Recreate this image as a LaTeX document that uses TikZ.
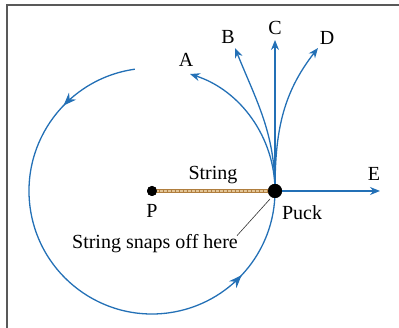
\documentclass[tikz,border=0pt]{standalone}
\usepackage{fontspec}
\setmainfont{Liberation Serif}
\usetikzlibrary{arrows.meta,decorations.markings}
\definecolor{pathblue}{RGB}{35,112,182}
\definecolor{stringbrown}{RGB}{176,126,62}
\definecolor{stringlight}{RGB}{226,196,150}
\tikzset{
  dot/.style={circle,fill=black,inner sep=0pt,minimum size=#1},
  path/.style={pathblue,line width=1.3pt,-{Stealth[length=10pt,width=8pt]}},
  lbl/.style={font=\fontsize{20}{22}\selectfont,inner sep=1pt},
  midarrows/.style={decoration={markings,
    mark=at position 0.145 with {\arrow{Stealth[length=13pt,width=10pt]}},
    mark=at position 0.835 with {\arrow{Stealth[length=13pt,width=10pt]}}},
    postaction={decorate}}
}
\begin{document}
\begin{tikzpicture}[x=1pt,y=1pt]
\useasboundingbox (0,0) rectangle (399,328);
% frame
\draw[gray!70!black,line width=2pt] (6.5,0) -- (6.5,322.5) -- (399,322.5);
% centre and puck
\node[dot=10pt] (P) at (152,137) {};
\node[dot=14pt] (puck) at (275,137) {};
% circular path
\draw[pathblue,line width=1.3pt,midarrows] (152,137) ++(98:123) arc (98:360:123);
% string
\draw[stringbrown,line width=4pt] (P.center) -- (puck.center);
\draw[stringlight,line width=1.2pt,dash pattern=on 2.5pt off 1.5pt] (P.center) -- (puck.center);
% possible paths after the string snaps
\coordinate (B) at (235,280);
\coordinate (C) at (275,288);
\coordinate (D) at (318,280);
\coordinate (E) at (380,137);
\draw[path] (puck.center) arc (0:72:123) coordinate (A);
\draw[path] (puck.center) to[out=90,in=-68] (B);
\draw[path] (puck.center) -- (C);
\draw[path] (puck.center) to[out=90,in=-128] (D);
\draw[path] (puck.center) -- (E);
\node[dot=10pt] at (P) {};
\node[dot=14pt] at (puck) {};
% labels
\node[lbl] (labA) at (186,268) {A};
\node[lbl] (labB) at (228,291) {B};
\node[lbl] (labC) at (275,300) {C};
\node[lbl] (labD) at (327,290) {D};
\node[lbl] (labE) at (374,154) {E};
\node[lbl] (labstring) at (213,153) {String};
\node[lbl] (labP) at (152,117) {P};
\node[lbl] (labpuck) at (302,115) {Puck};
\node[lbl] (snap) at (155,84) {String snaps off here};
\draw[black!80,line width=0.6pt] (snap.north east) ++(-2,-2) coordinate (lead) -- (270,129);
\end{tikzpicture}
\end{document}
